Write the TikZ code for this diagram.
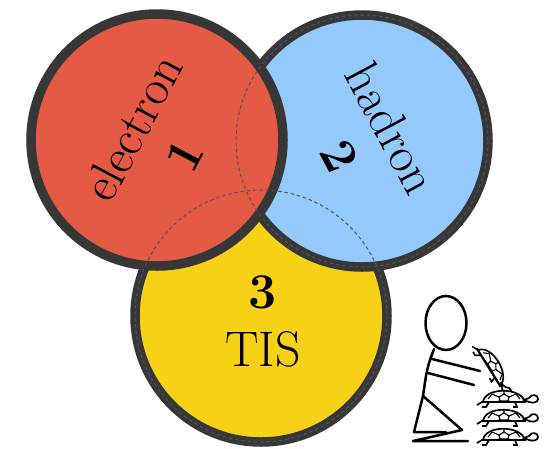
\documentclass[tikz,border=0pt]{standalone}
\usepackage{tikz}
\definecolor{redset}{RGB}{228,90,68}
\definecolor{blueset}{RGB}{148,201,254}
\definecolor{yellowset}{RGB}{247,209,22}
\definecolor{rim}{RGB}{55,55,55}
\tikzset{
  setdisc/.style={circle, minimum size=252pt, inner sep=0pt, draw=rim, line width=9.5pt},
  hidden/.style={draw=rim!85, line width=1pt, dash pattern=on 3.5pt off 2.8pt},
  setlabel/.style={font=\fontsize{50}{58}\selectfont, inner sep=0pt, align=center},
  ink/.style={line width=2.5pt, line cap=round, line join=round},
  turtle/.pic={
    % shell dome
    \draw[line width=1.7pt, fill=white] (-21,0) .. controls (-19,-15) and (17,-15) .. (21,0) -- cycle;
    % shell plates
    \draw[line width=1.1pt] (-5,-5) -- (0,-8) -- (5,-5) -- (4,-1) -- (-4,-1) -- cycle;
    \draw[line width=1.1pt] (0,-8) -- (0,-11) (-5,-5) -- (-12,-8) (5,-5) -- (12,-8)
      (-4,-1) -- (-10,0) (4,-1) -- (10,0) (-12,-8) -- (-16,-3) (12,-8) -- (16,-3);
    % rim
    \draw[line width=2pt] (-23,0) -- (22,0);
    % head and neck
    \draw[line width=1.7pt, fill=white] (20,-2) -- (25,-4) .. controls (28,-9) and (34,-7) .. (34,-3)
      .. controls (34,1) and (28,1) .. (25,0) -- cycle;
    % legs and tail
    \draw[line width=1.7pt] (-15,0) -- (-18,5) -- (-22,5) (11,0) -- (13,5) -- (9,5) (-22,0) -- (-27,3);
  }
}
\begin{document}
\begin{tikzpicture}[x=1pt, y=-1pt]
  \useasboundingbox (0,0) rectangle (549,448);

  % the three sets, back to front
  \node[setdisc, fill=yellowset] (tis) at (261,316) {};
  \node[setdisc, fill=blueset] (hadron) at (362,141) {};
  \node[setdisc, fill=redset] (electron) at (157,140) {};

  % outlines hidden under the front discs
  \draw[hidden] (tis.center) circle (126);
  \draw[hidden] (hadron.center) circle (126);

  % set labels
  \node[setlabel, rotate=62] (eleclabel) at (158,141) {electron\\\textbf{1}};
  \node[setlabel, rotate=-62] (hadlabel) at (366,142) {hadron\\\textbf{2}};
  \node[setlabel] (tislabel) at (263,321) {\textbf{3}\\TIS};

  % kneeling figure stacking turtles
  \draw[ink] (446,323) ellipse (20.5 and 27);
  \draw[ink] (434,349) .. controls (427,368) .. (423,396);
  \draw[ink] (423,396) -- (462,430) -- (413,441) (413,441) -- (468,441);
  \draw[ink] (423,396) -- (414,432) -- (446,432);
  \draw[ink] (432,359) -- (480,371);
  \draw[ink] (428,373) -- (474,385);

  % turtle in hand
  \pic[rotate=-58] at (489,368) {turtle};
  % stack of turtles
  \pic at (504,402) {turtle};
  \pic at (504,421) {turtle};
  \pic at (504,440) {turtle};
\end{tikzpicture}
\end{document}
